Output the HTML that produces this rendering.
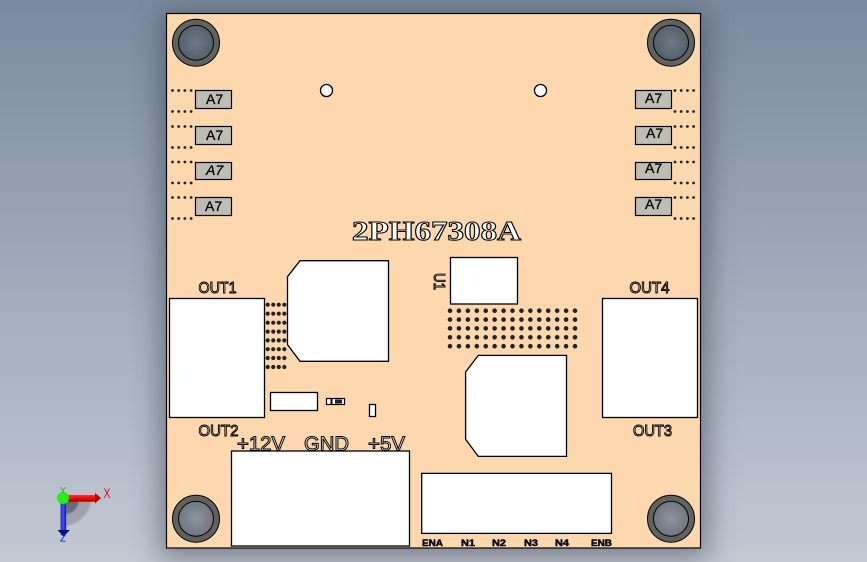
<!DOCTYPE html>
<html><head><meta charset="utf-8"><style>
html,body{margin:0;padding:0;width:867px;height:562px;overflow:hidden;background:#9aa5b5}
svg{display:block}
text{font-family:"Liberation Sans",sans-serif}
.ol{fill:#fff3e4;stroke:#000;stroke-width:1;font-size:16px}
.b{font-weight:bold;font-size:9px;fill:#000;stroke:#000;stroke-width:.45}
.w{fill:#fff;stroke:#000;stroke-width:1.3}
.c{fill:#bdbdb3;stroke:#000;stroke-width:1.2}
.a{font-size:14px;fill:#000;stroke:#000;stroke-width:.3}
.d{stroke:#222;stroke-linecap:round;fill:none}
</style></head><body>
<svg width="867" height="562" viewBox="0 0 867 562" xmlns="http://www.w3.org/2000/svg">
<defs>
<linearGradient id="bg" x1="0" y1="0" x2="0" y2="1"><stop offset="0" stop-color="#7a8aa0"/><stop offset=".5" stop-color="#a0abba"/><stop offset="1" stop-color="#c3c8d3"/></linearGradient>
<radialGradient id="h1" cx=".5" cy=".5" r=".6"><stop offset="0" stop-color="#6f7a88"/><stop offset="1" stop-color="#4f5a66"/></radialGradient>
<radialGradient id="h2" cx=".5" cy=".5" r=".6"><stop offset="0" stop-color="#8f95a0"/><stop offset="1" stop-color="#6a6f78"/></radialGradient>
<linearGradient id="rd" x1="0" y1="0" x2="0" y2="1"><stop offset="0" stop-color="#ff3030"/><stop offset=".6" stop-color="#f00000"/><stop offset="1" stop-color="#900000"/></linearGradient>
<linearGradient id="bl" x1="0" y1="0" x2="1" y2="0"><stop offset="0" stop-color="#2a2ac0"/><stop offset=".5" stop-color="#3c50ff"/><stop offset="1" stop-color="#101080"/></linearGradient>
<filter id="sh" x="-20%" y="-20%" width="140%" height="140%"><feGaussianBlur stdDeviation="14"/></filter>
<filter id="s2"><feGaussianBlur stdDeviation=".8"/></filter>
</defs>
<rect width="867" height="562" fill="url(#bg)"/>
<rect x="160" y="12" width="548" height="546" fill="#3c4450" opacity=".55" filter="url(#sh)"/>
<rect x="166.5" y="13.5" width="534" height="534.5" fill="#fdd7ae" stroke="#000" stroke-width="1.2"/>

<!-- mounting holes -->
<g stroke="#000" stroke-width="1">
<circle cx="196" cy="42.7" r="23.5" fill="#5f625f"/><circle cx="196" cy="42.7" r="17.5" fill="url(#h1)"/>
<circle cx="671" cy="42.7" r="23.5" fill="#5f625f"/><circle cx="671" cy="42.7" r="17.5" fill="url(#h1)"/>
<circle cx="196" cy="518.7" r="23.5" fill="#5f625f"/><circle cx="196" cy="518.7" r="17.5" fill="url(#h2)"/>
<circle cx="671" cy="518.7" r="23.5" fill="#5f625f"/><circle cx="671" cy="518.7" r="17.5" fill="url(#h2)"/>
</g>
<circle class="w" cx="326.5" cy="90.5" r="6"/>
<circle class="w" cx="540.5" cy="90.5" r="6"/>

<!-- A7 chips -->
<rect class="c" x="195.5" y="90.5" width="36" height="18"/>
<rect class="c" x="195.5" y="126.5" width="36" height="18"/>
<rect class="c" x="195.5" y="162.5" width="36" height="17"/>
<rect class="c" x="195.5" y="197.5" width="36" height="18"/>
<rect class="c" x="635.5" y="90.5" width="36" height="18"/>
<rect class="c" x="635.5" y="126.5" width="36" height="18"/>
<rect class="c" x="635.5" y="162.5" width="36" height="17"/>
<rect class="c" x="635.5" y="197.5" width="36" height="18"/>
<text class="a" x="206" y="104">A7</text>
<text class="a" x="206" y="140">A7</text>
<text class="a" x="206" y="175" font-style="italic">A7</text>
<text class="a" x="205" y="211">A7</text>
<text class="a" x="645" y="103">A7</text>
<text class="a" x="646" y="138">A7</text>
<text class="a" x="645" y="173">A7</text>
<text class="a" x="645" y="209">A7</text>

<!-- chip pad dots -->
<g class="d" stroke-width="2.8" stroke-dasharray="0 6.2">
<path d="M172.5 90.5H194M172.5 111.5H194M172.5 126.5H194M172.5 147.5H194M172.5 162H194M172.5 183H194M172.5 197.5H194M172.5 218.5H194"/>
<path d="M675 90.5H696M675 111.5H696M675 126.5H696M675 147.5H696M675 162H696M675 183H696M675 197.5H696M675 218.5H696"/>
</g>
<!-- dot grids -->
<g class="d" stroke-width="4.2" stroke-dasharray="0 5.55">
<path d="M267.7 304.7H286M267.7 313.7H286M267.7 322.7H286M267.7 331.6H286M267.7 340.4H286M267.7 349.2H286M267.7 358H286M267.7 367H286"/>
</g>
<g class="d" stroke-width="4.6" stroke-dasharray="0 8.93">
<path d="M450 310.7H577M450 319.6H577M450 328.4H577M450 337.3H577M450 346.2H577"/>
</g>

<!-- white parts -->
<rect class="w" x="169.5" y="298.5" width="95" height="119"/>
<rect class="w" x="602.5" y="298.5" width="95" height="119"/>
<polygon class="w" points="300,260.7 388.5,260.7 388.5,361.3 300,361.3 287.5,344.7 287.5,276.7"/>
<polygon class="w" points="478.3,355.4 566.5,355.4 566.5,456.4 478.3,456.4 465.6,439.3 465.6,372"/>
<rect class="w" x="450.5" y="257.5" width="67" height="46.5"/>
<rect class="w" x="270.5" y="392.5" width="47" height="18"/>
<rect class="w" x="369.5" y="404.5" width="6" height="12"/>
<rect x="326.5" y="398.5" width="18" height="6" fill="#fff" stroke="#000" stroke-width="1.2"/>
<rect x="330.5" y="398.5" width="2" height="6" fill="#000"/><rect x="335" y="399.5" width="7" height="4" fill="#222"/>
<rect class="w" x="231.5" y="451" width="178" height="95"/>
<rect class="w" x="421.7" y="473.4" width="189.8" height="60"/>

<!-- outlined labels -->
<text x="352" y="240" font-size="27" font-weight="bold" textLength="169" lengthAdjust="spacingAndGlyphs" fill="#fff" stroke="#000" stroke-width="1" style="font-family:'Liberation Serif',serif">2PH67308A</text>
<text class="ol" x="198.5" y="293" textLength="38" lengthAdjust="spacingAndGlyphs">OUT1</text>
<text class="ol" x="198.5" y="436" textLength="40" lengthAdjust="spacingAndGlyphs">OUT2</text>
<text class="ol" x="629.5" y="293" textLength="40" lengthAdjust="spacingAndGlyphs">OUT4</text>
<text class="ol" x="633" y="436" textLength="39" lengthAdjust="spacingAndGlyphs">OUT3</text>
<text class="ol" x="237" y="450.5" style="font-size:20px" textLength="48" lengthAdjust="spacingAndGlyphs">+12V</text>
<text class="ol" x="304" y="450.5" style="font-size:20px" textLength="45" lengthAdjust="spacingAndGlyphs">GND</text>
<text class="ol" x="368" y="450.5" style="font-size:20px" textLength="37" lengthAdjust="spacingAndGlyphs">+5V</text>
<text class="ol" transform="translate(434,273) rotate(90)" x="0" y="0" style="font-size:16px" textLength="17" lengthAdjust="spacingAndGlyphs">U1</text>
<text class="b" x="422" y="546" textLength="21" lengthAdjust="spacingAndGlyphs">ENA</text>
<text class="b" x="461" y="546" textLength="14" lengthAdjust="spacingAndGlyphs">N1</text>
<text class="b" x="492" y="546" textLength="14" lengthAdjust="spacingAndGlyphs">N2</text>
<text class="b" x="524" y="546" textLength="14" lengthAdjust="spacingAndGlyphs">N3</text>
<text class="b" x="555" y="546" textLength="14" lengthAdjust="spacingAndGlyphs">N4</text>
<text class="b" x="591" y="546" textLength="21" lengthAdjust="spacingAndGlyphs">ENB</text>

<!-- triad -->
<path d="M66 501H91A30 30 0 0 1 66 526Z" fill="#8d9098" opacity=".65" filter="url(#s2)"/>
<path d="M66 501H79A15 15 0 0 1 66 514Z" fill="#5a5e68" opacity=".8" filter="url(#s2)"/>
<rect x="68" y="495" width="28" height="6.7" fill="url(#rd)"/>
<polygon points="95,493 101,498 95,503.5" fill="#c00000"/>
<rect x="60.5" y="503" width="5.7" height="28" fill="url(#bl)"/>
<polygon points="57.5,530 70,530 63.5,536.5" fill="#101080"/>
<circle cx="63" cy="498" r="6" fill="#22f012"/>
<text x="103.5" y="498" font-size="14" fill="#e01010" textLength="7" lengthAdjust="spacingAndGlyphs">X</text>
<text x="60" y="493" font-size="8" fill="#10b010" textLength="6" lengthAdjust="spacingAndGlyphs">Y</text>
<text x="60" y="541.5" font-size="10" fill="#1010e0" textLength="6" lengthAdjust="spacingAndGlyphs">Z</text>
</svg>
</body></html>
